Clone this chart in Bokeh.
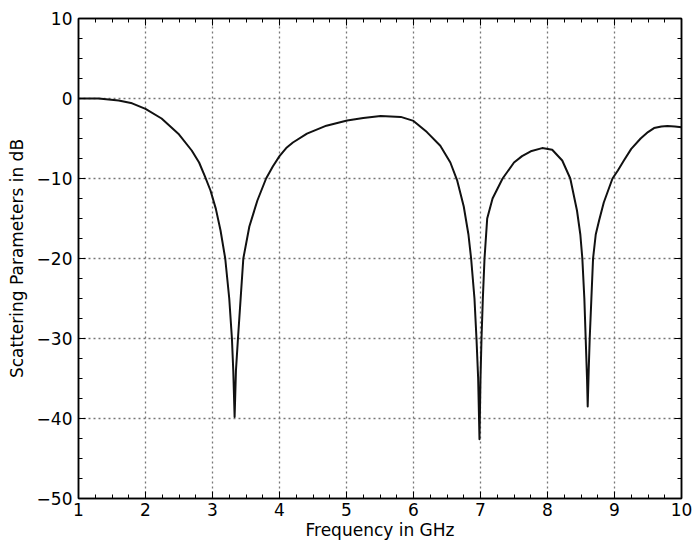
from bokeh.plotting import figure
from bokeh.models import LinearAxis, SingleIntervalTicker, Range1d, Grid, CustomJSTickFormatter
from bokeh.embed import file_html
from bokeh.resources import INLINE

freq_ghz = [1.0, 1.3, 1.6, 1.8, 2.0, 2.24, 2.49, 2.69, 2.8, 2.89, 2.97, 3.05, 3.12, 3.19, 3.25, 3.29,
            3.31, 3.33, 3.35, 3.38, 3.42, 3.46, 3.55, 3.67, 3.8, 3.9, 4.0, 4.1, 4.2, 4.41, 4.7,
            5.01, 5.25, 5.51, 5.81, 6.0, 6.2, 6.4, 6.55, 6.65, 6.75, 6.82, 6.86, 6.91, 6.94, 6.965,
            6.985, 7.0, 7.015, 7.035, 7.06, 7.1, 7.18, 7.33, 7.5, 7.62, 7.75, 7.92, 8.07, 8.22,
            8.34, 8.44, 8.49, 8.52, 8.55, 8.57, 8.59, 8.60, 8.615, 8.63, 8.655, 8.68, 8.72, 8.77,
            8.84, 8.97, 9.05, 9.14, 9.25, 9.39, 9.5, 9.59, 9.7, 9.79, 9.9, 10.0]
s_db = [0.0, 0.0, -0.25, -0.6, -1.3, -2.5, -4.4, -6.5, -8.0, -9.8, -11.5, -13.8, -16.5, -20.0, -25.0,
        -30.0, -34.0, -39.8, -34.0, -30.0, -25.0, -20.0, -16.0, -12.75, -10.0, -8.5, -7.2, -6.2,
        -5.5, -4.4, -3.4, -2.75, -2.45, -2.2, -2.3, -2.8, -4.2, -5.9, -8.0, -10.2, -13.5, -17.0,
        -20.0, -25.0, -30.0, -35.0, -42.6, -35.0, -30.0, -25.0, -20.0, -15.0, -12.5, -10.0, -8.0,
        -7.2, -6.6, -6.2, -6.4, -7.75, -10.0, -14.0, -17.0, -20.0, -25.0, -30.0, -35.0, -38.5,
        -34.0, -30.0, -25.0, -20.0, -17.0, -15.25, -13.0, -10.0, -9.0, -7.75, -6.3, -5.0, -4.2,
        -3.7, -3.5, -3.45, -3.5, -3.6]

x_ticks = list(range(1, 11))
y_ticks = [10, 0, -10, -20, -30, -40, -50]
y_tick_labels = {10: "10", 0: "0", -10: "\u221210", -20: "\u221220", -30: "\u221230",
                 -40: "\u221240", -50: "\u221250"}

FONT = "DejaVu Sans"

p = figure(width=696, height=542, output_backend="svg", toolbar_location=None,
           x_range=Range1d(1, 10), y_range=Range1d(-50, 10),
           x_axis_type=None, y_axis_type=None,
           min_border_left=78, min_border_right=15, min_border_top=18, min_border_bottom=44)
p.background_fill_color = "white"
p.border_fill_color = "white"
p.outline_line_color = "black"
p.outline_line_width = 1.5

xt = SingleIntervalTicker(interval=1, num_minor_ticks=4)
yt = SingleIntervalTicker(interval=10, num_minor_ticks=4)


def style(ax, labels=True):
    ax.axis_line_color = "black"
    ax.axis_line_width = 1.5
    ax.major_tick_in = 7
    ax.major_tick_out = 0
    ax.minor_tick_in = 4
    ax.minor_tick_out = 0
    ax.major_tick_line_color = "black"
    ax.minor_tick_line_color = "black"
    ax.major_label_text_font = FONT
    ax.major_label_text_color = "black"
    ax.major_label_text_font_size = "17px"
    if not labels:
        ax.formatter = CustomJSTickFormatter(code="return ''")
        ax.major_label_standoff = 0
    ax.axis_label_text_font = FONT
    ax.axis_label_text_font_size = "17px"
    ax.axis_label_text_font_style = "normal"
    ax.axis_label_text_color = "black"


for g in (Grid(dimension=0, ticker=xt), Grid(dimension=1, ticker=yt)):
    g.grid_line_color = "#777777"
    g.grid_line_dash = "2 3"
    g.grid_line_width = 1.3
    p.add_layout(g)

xb = LinearAxis(ticker=xt, axis_label="Frequency in GHz")
style(xb)
xb.major_label_standoff = 4
xb.axis_label_standoff = 1
p.add_layout(xb, "below")

yl = LinearAxis(ticker=yt, axis_label="Scattering Parameters in dB")
style(yl)
yl.major_label_overrides = y_tick_labels
yl.major_label_standoff = 6
yl.axis_label_standoff = 7
p.add_layout(yl, "left")

xa = LinearAxis(ticker=xt)
style(xa, labels=False)
p.add_layout(xa, "above")

yr = LinearAxis(ticker=yt)
style(yr, labels=False)
p.add_layout(yr, "right")

p.line(freq_ghz, s_db, line_color="#111111", line_width=2, line_join="round")

open("out.html", "w").write(file_html(p, INLINE))
